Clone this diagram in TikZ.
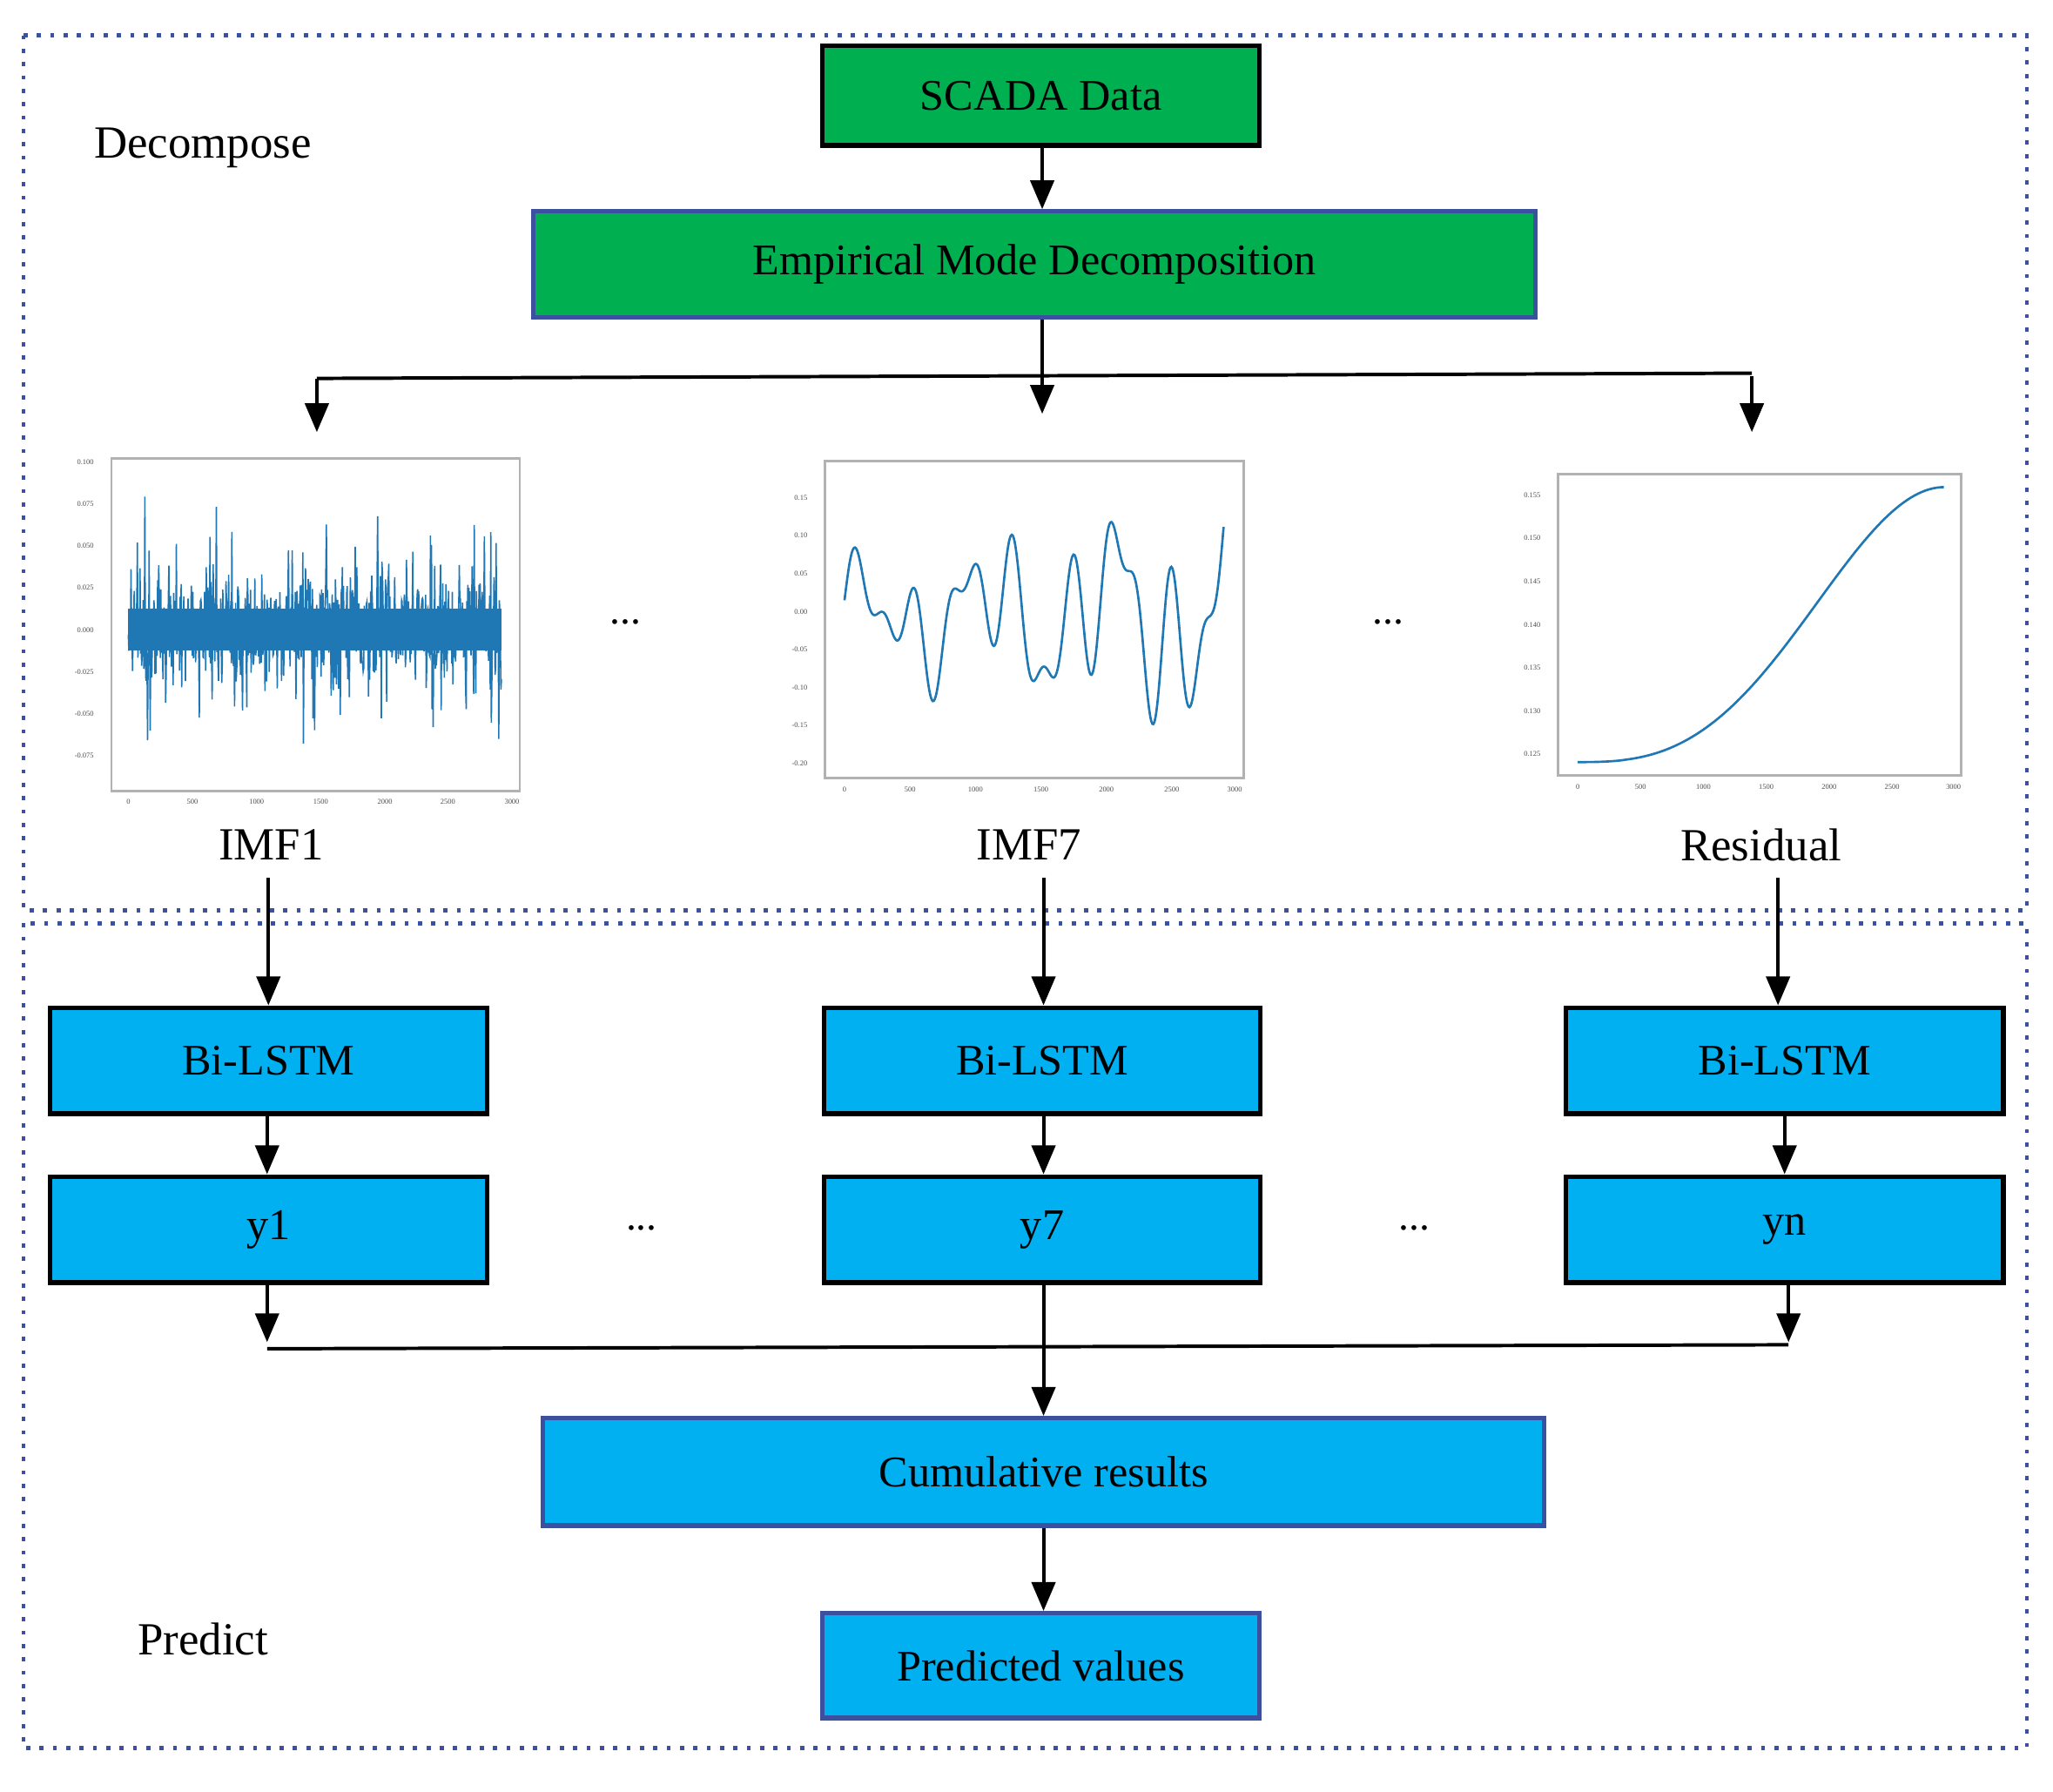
\documentclass[tikz,border=0pt]{standalone}
\usepackage{fontspec}
\setmainfont{Liberation Serif}
\usetikzlibrary{arrows.meta}
\definecolor{gr}{RGB}{0,176,80}
\definecolor{cy}{RGB}{0,176,240}
\definecolor{pl}{RGB}{31,119,180}
\definecolor{db}{RGB}{60,80,160}
\begin{document}
\begin{tikzpicture}[x=0.1mm,y=-0.1mm,
 box/.style={draw=black,line width=1pt,inner sep=0pt,font=\fontsize{9.5}{11}\selectfont},
 gbox/.style={box,fill=gr},
 cbox/.style={box,fill=cy},
 ar/.style={line width=0.75pt,-{Triangle[length=2.2mm,width=1.8mm]}},
 ln/.style={line width=0.75pt},
 lbl/.style={font=\fontsize{10}{12}\selectfont},
 frame/.style={draw=black!30,line width=0.5pt},
 tk/.style={font=\fontsize{1.6}{2}\selectfont,text=black!70}]
\useasboundingbox (0,0) rectangle (1568,1368);
\draw[db,line width=0.9pt,dotted] (18,27) rectangle (1548,695);
\draw[db,line width=0.9pt,dotted] (18,705) rectangle (1548,1335);
\node[lbl] at (155,113) {Decompose};
\node[lbl] at (155,1252) {Predict};
\node[gbox,minimum width=33.4mm,minimum height=7.6mm] (scada) at (795,73) {SCADA Data};
\node[gbox,draw=db,minimum width=76.5mm,minimum height=8.1mm] (emd) at (790,202) {Empirical Mode Decomposition};
\draw[ar] (scada.south -| 796,0) -- (emd.north -| 796,0);
\coordinate (b1) at (242,330); \coordinate (b2) at (796,316); \coordinate (b3) at (1338,330);
\draw[ln] (emd.south -| 796,0) -- (796,287);
\draw[ar] (242,289) -- (b1);
\draw[ar] (796,287) -- (b2);
\draw[ar] (1338,287) -- (b3);
\draw[ln] (242,289) -- (1338,285);
% plots
\draw[frame] (85,350) rectangle (397,604);
\pgfmathsetseed{7}
\draw[pl,line width=0.3pt] plot[variable=\t,samples=700,domain=98:383] (\t,{480+28*rand+110*rand*rand*rand});
\fill[pl] (98,465) rectangle (383,497);
\foreach \y/\l in {353/0.100,385/0.075,417/0.050,449/0.025,481/0.000,513/-0.025,545/-0.050,577/-0.075}{\node[tk,anchor=east] at (84,\y) {\l};}
\foreach \x/\l in {98/0,147/500,196/1000,245/1500,294/2000,342/2500,391/3000}{\node[tk] at (\x,612) {\l};}
\node[lbl] (l1) at (207,645) {IMF1};
\draw[frame] (630,352) rectangle (950,594);
\draw[pl,line width=0.5pt,smooth] plot[variable=\t,samples=400,domain=0:1] ({645+290*\t},{470-(35*sin(2600*\t)+30*sin(1100*\t+40)+25*sin(4300*\t))*(0.6+0.8*\t)});
\foreach \y/\l in {380/0.15,409/0.10,438/0.05,467/0.00,496/-0.05,525/-0.10,554/-0.15,583/-0.20}{\node[tk,anchor=east] at (629,\y) {\l};}
\foreach \x/\l in {645/0,695/500,745/1000,795/1500,845/2000,895/2500,943/3000}{\node[tk] at (\x,603) {\l};}
\node[lbl] (l2) at (786,645) {IMF7};
\draw[frame] (1190,362) rectangle (1498,592);
\draw[pl,line width=0.5pt] plot[variable=\t,samples=100,domain=0:1] ({1205+280*\t},{582-210*(1-cos(180*\t^1.4))/2});
\foreach \y/\l in {378/0.155,411/0.150,444/0.145,477/0.140,510/0.135,543/0.130,576/0.125}{\node[tk,anchor=east] at (1189,\y) {\l};}
\foreach \x/\l in {1205/0,1253/500,1301/1000,1349/1500,1397/2000,1445/2500,1492/3000}{\node[tk] at (\x,601) {\l};}
\node[lbl] (l3) at (1345,645) {Residual};
\node[font=\fontsize{9}{11}\selectfont] at (478,475) {...};
\node[font=\fontsize{9}{11}\selectfont] at (1060,475) {...};
% predict
\node[cbox,minimum width=33.4mm,minimum height=8.1mm] (bl1) at (205,810) {Bi-LSTM};
\node[cbox,minimum width=33.3mm,minimum height=8.1mm] (bl2) at (796,810) {Bi-LSTM};
\node[cbox,minimum width=33.4mm,minimum height=8.1mm] (bl3) at (1363,810) {Bi-LSTM};
\node[cbox,minimum width=33.4mm,minimum height=8.1mm] (y1) at (205,939) {y1};
\node[cbox,minimum width=33.3mm,minimum height=8.1mm] (y7) at (796,939) {y7};
\node[cbox,minimum width=33.4mm,minimum height=8.1mm] (yn) at (1363,939) {yn};
\draw[ar] (205,670) -- (bl1.north -| 205,0);
\draw[ar] (797,670) -- (bl2.north -| 797,0);
\draw[ar] (1358,670) -- (bl3.north -| 1358,0);
\draw[ar] (bl1.south -| 204,0) -- (y1.north -| 204,0);
\draw[ar] (bl2.south -| 797,0) -- (y7.north -| 797,0);
\draw[ar] (bl3.south -| 1363,0) -- (yn.north -| 1363,0);
\node[font=\fontsize{9}{11}\selectfont] at (490,938) {...};
\node[font=\fontsize{9}{11}\selectfont] at (1080,938) {...};
\node[cbox,draw=db,minimum width=76.5mm,minimum height=8.2mm] (cum) at (797,1124) {Cumulative results};
\node[cbox,draw=db,minimum width=33.4mm,minimum height=8mm] (pv) at (795,1272) {Predicted values};
\draw[ar] (y1.south -| 204,0) -- (204,1025);
\draw[ar] (yn.south -| 1366,0) -- (1366,1025);
\draw[ln] (204,1030) -- (1366,1027);
\draw[ar] (y7.south -| 797,0) -- (cum.north -| 797,0);
\draw[ar] (cum.south -| 797,0) -- (pv.north -| 797,0);
\end{tikzpicture}
\end{document}
